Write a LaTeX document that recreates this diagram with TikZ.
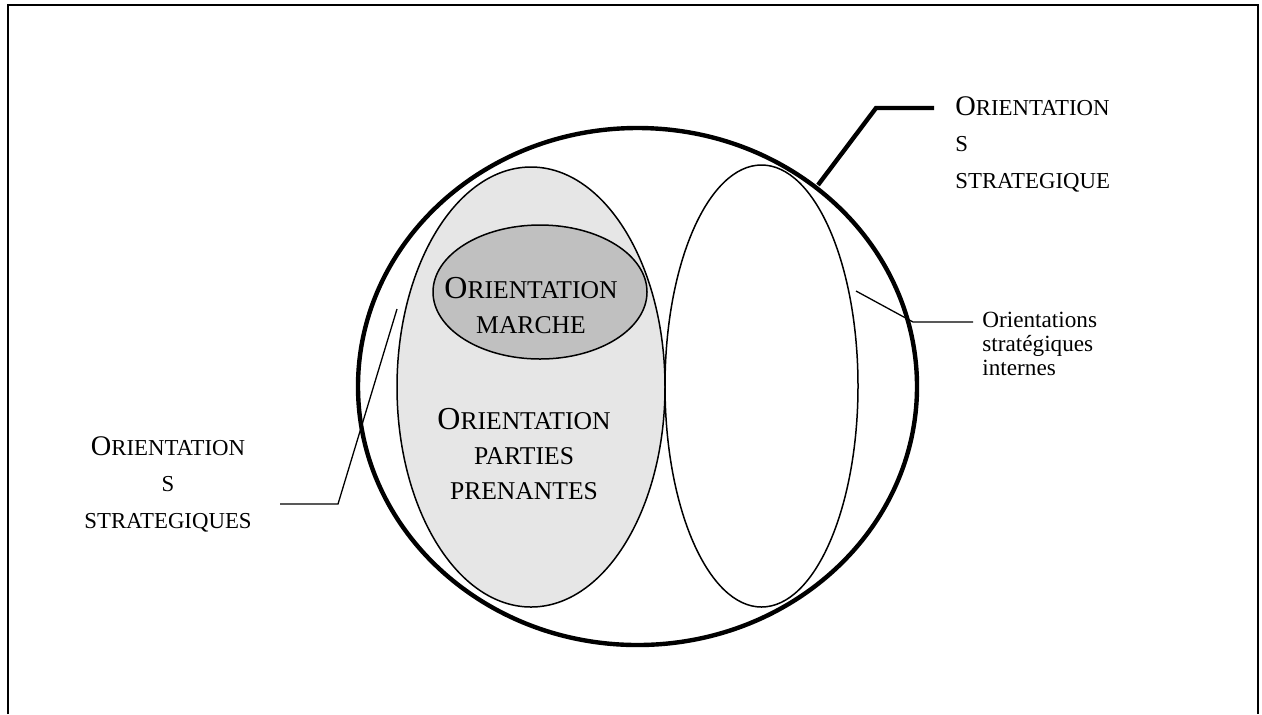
\documentclass[tikz,border=0pt]{standalone}
\usepackage{fontspec}
\setmainfont{Liberation Serif}
\definecolor{greylight}{RGB}{230,230,230}
\definecolor{greydark}{RGB}{192,192,192}
% fake small capitals (the font has none)
\newcommand\sidecaps[1]{{\fontsize{11.4}{18.25}\selectfont #1}}
\newcommand\ovalcaps[1]{{\fontsize{12.8}{17.5}\selectfont #1}}
\begin{document}
\begin{tikzpicture}[x=0.5pt,y=0.5pt,yscale=-1,xscale=1,
  frame/.style={line width=1pt},
  heavy/.style={line width=2.2pt},
  thin oval/.style={line width=0.75pt},
  callout/.style={line width=0.65pt},
  sidelabel/.style={font=\fontsize{14.2}{18.25}\selectfont,inner sep=0pt},
  ovallabel/.style={font=\fontsize{16}{17.5}\selectfont,inner sep=0pt,align=center},
  notelabel/.style={font=\fontsize{11.6}{12}\selectfont,inner sep=0pt,align=left}]
\useasboundingbox (0,0) rectangle (1262,714);
%Frame (open at the bottom)
\draw[frame] (8,714) -- (8,5) -- (1258,5) -- (1258,714);

%Ellipse: orientations strategiques
\draw[heavy] (637.5,386.5) ellipse [x radius=139.75pt, y radius=129.25pt];
%Ellipse: parties prenantes
\draw[thin oval, fill=greylight] (531,387) ellipse [x radius=67pt, y radius=110pt];
%Ellipse: marche
\draw[thin oval, fill=greydark] (540,292) ellipse [x radius=53.5pt, y radius=33.5pt];
%Ellipse: internes
\draw[thin oval] (761.5,386) ellipse [x radius=48.25pt, y radius=110.5pt];

%Callout points
\coordinate (topfoot) at (818,185);
\coordinate (topbend) at (876,108);
\coordinate (topend) at (934,108);
\coordinate (rightfoot) at (856,291);
\coordinate (rightbend) at (913,322);
\coordinate (rightend) at (973,322);
\coordinate (leftfoot) at (397,309);
\coordinate (leftbend) at (338,504);
\coordinate (leftend) at (280,504);

%Callouts
\draw[heavy] (topfoot) -- (topbend) -- (topend);
\draw[callout] (rightfoot) -- (rightbend) -- (rightend);
\draw[callout] (leftfoot) -- (leftbend) -- (leftend);

% Text Node (base = last line)
\node[sidelabel, anchor=base west, align=left] (toplabel) at (955,188)
  {O\sidecaps{RIENTATION}\\\sidecaps{S}\\\sidecaps{STRATEGIQUE}};
% Text Node
\node[sidelabel, anchor=base, align=center] (leftlabel) at (168,528)
  {O\sidecaps{RIENTATION}\\\sidecaps{S}\\\sidecaps{STRATEGIQUES}};
% Text Node
\node[notelabel, anchor=base west] (rightlabel) at (982,375)
  {Orientations\\stratégiques\\internes};
% Text Node
\node[ovallabel, anchor=base] (marchelabel) at (531,333)
  {O\ovalcaps{RIENTATION}\\\ovalcaps{MARCHE}};
% Text Node
\node[ovallabel, anchor=base] (partieslabel) at (524,499)
  {O\ovalcaps{RIENTATION}\\\ovalcaps{PARTIES}\\\ovalcaps{PRENANTES}};
\end{tikzpicture}
\end{document}
